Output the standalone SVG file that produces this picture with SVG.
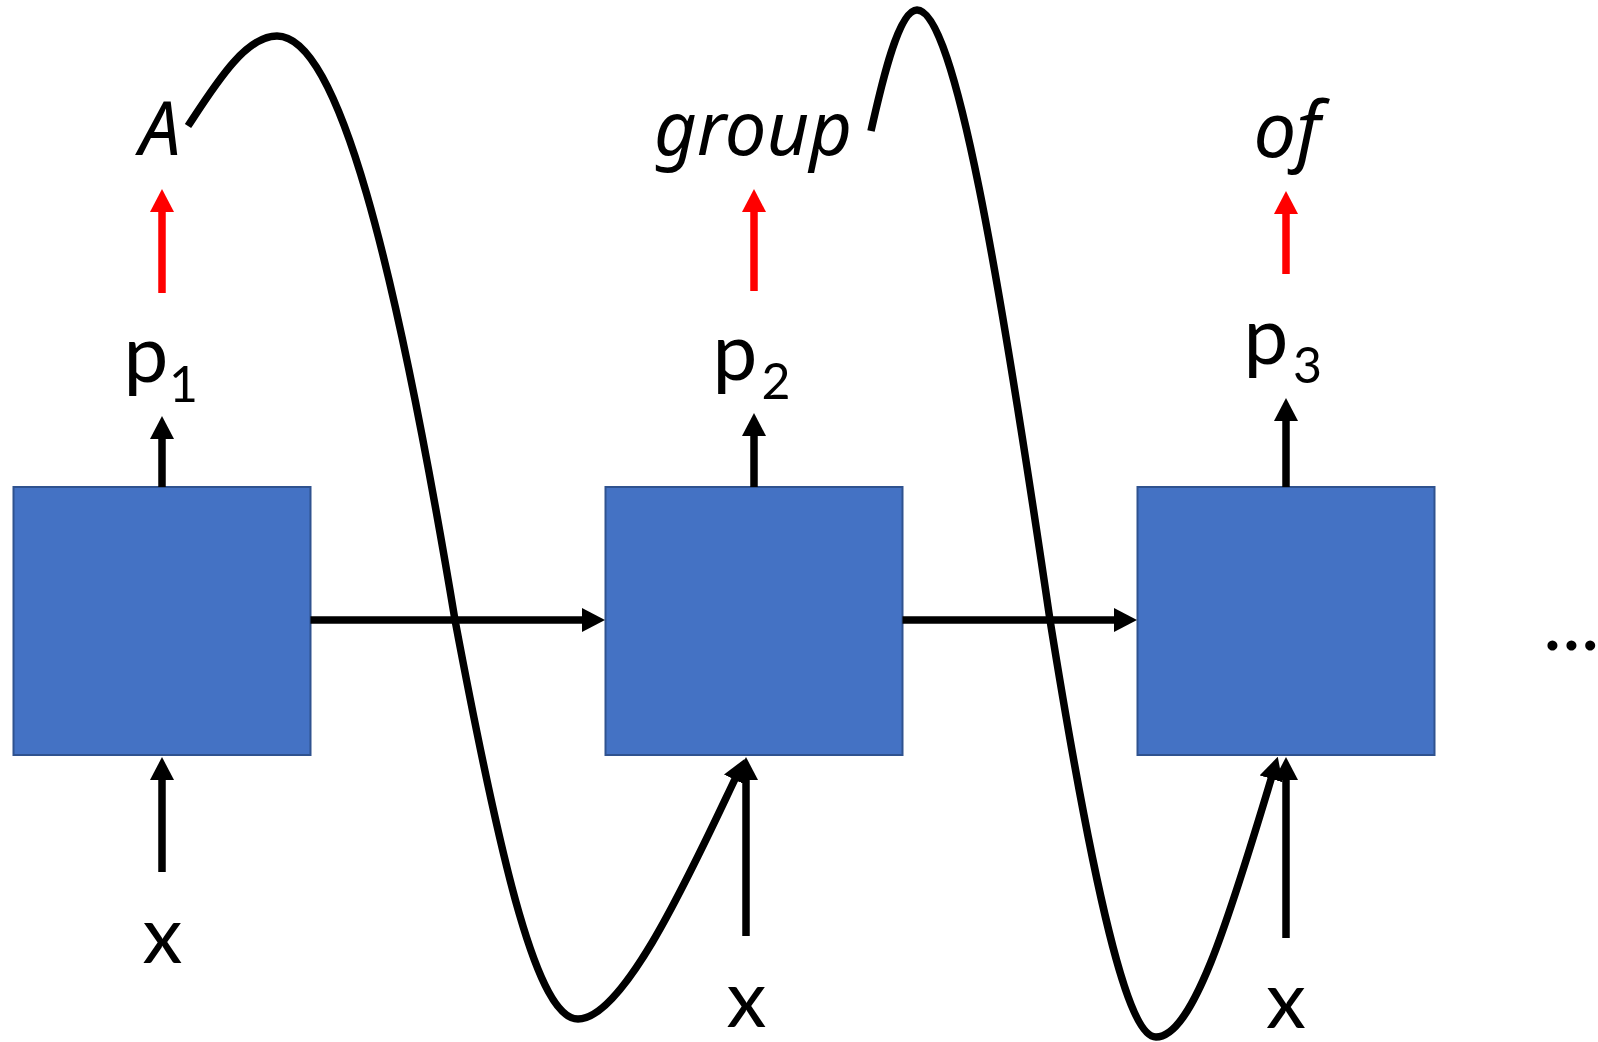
<svg xmlns="http://www.w3.org/2000/svg" width="1598" height="1042" viewBox="0 0 1598 1042">
<style>
.box{fill:#4472C4;stroke:#2F528F;stroke-width:2}
.lbl{font-family:Lato,"Liberation Sans",sans-serif;fill:#000}
.big{font-size:80px}
.sub{font-size:50px}
.it{font-family:"Noto Sans",Lato,sans-serif;font-style:italic;font-size:74px}
.arr{stroke:#000;stroke-width:7.5;fill:none;marker-end:url(#hb)}
.red{stroke:#FF0000;stroke-width:7.5;fill:none;marker-end:url(#hr)}
.crv{stroke:#000;stroke-width:7.5;fill:none;stroke-linecap:butt;stroke-linejoin:round}
</style>
<defs>
<marker id="hb" markerUnits="userSpaceOnUse" viewBox="0 0 23 24" markerWidth="23" markerHeight="24" refX="3" refY="12" orient="auto"><path d="M0,0 L23,12 L0,24 Z" fill="#000"/></marker>
<marker id="hr" markerUnits="userSpaceOnUse" viewBox="0 0 23 24" markerWidth="23" markerHeight="24" refX="3" refY="12" orient="auto"><path d="M0,0 L23,12 L0,24 Z" fill="#FF0000"/></marker>
</defs>
<rect width="1598" height="1042" fill="#fff"/>

<g id="node1">
<rect class="box" x="13.5" y="487" width="297" height="268"/>
</g>
<g id="node2">
<rect class="box" x="605.5" y="487" width="297" height="268"/>
</g>
<g id="node3">
<rect class="box" x="1137.5" y="487" width="297" height="268"/>
</g>

<g id="labels">
<text class="lbl it" x="160" y="155" text-anchor="middle">A</text>
<text class="lbl it" x="753" y="155" text-anchor="middle" style="font-size:74px">group</text>
<text class="lbl it" x="1287" y="157" text-anchor="middle" style="font-size:76px">of</text>
<text class="lbl big" x="146" y="382" text-anchor="middle">p</text>
<text class="lbl sub" x="183.5" y="402" text-anchor="middle">1</text>
<text class="lbl big" x="735" y="380" text-anchor="middle">p</text>
<text class="lbl sub" x="776" y="399" text-anchor="middle">2</text>
<text class="lbl big" x="1266" y="364" text-anchor="middle">p</text>
<text class="lbl sub" x="1307.5" y="383" text-anchor="middle">3</text>
<text class="lbl big" x="162.5" y="963" text-anchor="middle">x</text>
<text class="lbl big" x="746.5" y="1027" text-anchor="middle">x</text>
<text class="lbl big" x="1286" y="1028" text-anchor="middle">x</text>
<text class="lbl big" x="1543" y="650">...</text>
</g>

<g id="connectors">
<line class="red" x1="162" y1="293" x2="162" y2="209"/>
<line class="red" x1="754" y1="291" x2="754" y2="209"/>
<line class="red" x1="1286" y1="274" x2="1286" y2="211"/>
<line class="arr" x1="162" y1="487" x2="162" y2="436"/>
<line class="arr" x1="754" y1="487" x2="754" y2="433"/>
<line class="arr" x1="1286" y1="487" x2="1286" y2="418"/>
<line class="arr" x1="162" y1="872" x2="162" y2="777"/>
<line class="arr" x1="746" y1="936" x2="746" y2="777"/>
<line class="arr" x1="1286" y1="938" x2="1286" y2="777"/>
<line class="arr" x1="310.5" y1="620" x2="585" y2="620"/>
<line class="arr" x1="902.5" y1="620" x2="1117" y2="620"/>
<path class="crv" marker-end="url(#hb)" d="M188,126 C215,85 245,36 277,36 C338,36 395,260 455,620 C502,870 538,1019 578,1019 C625,1019 694,865 736,777"/>
<path class="crv" marker-end="url(#hb)" d="M871,131 C879,96 897,10 917,10 C955,10 1000,280 1050,620 C1095,900 1128,1037 1156,1037 C1192,1037 1227,926 1272,776"/>
</g>
</svg>
